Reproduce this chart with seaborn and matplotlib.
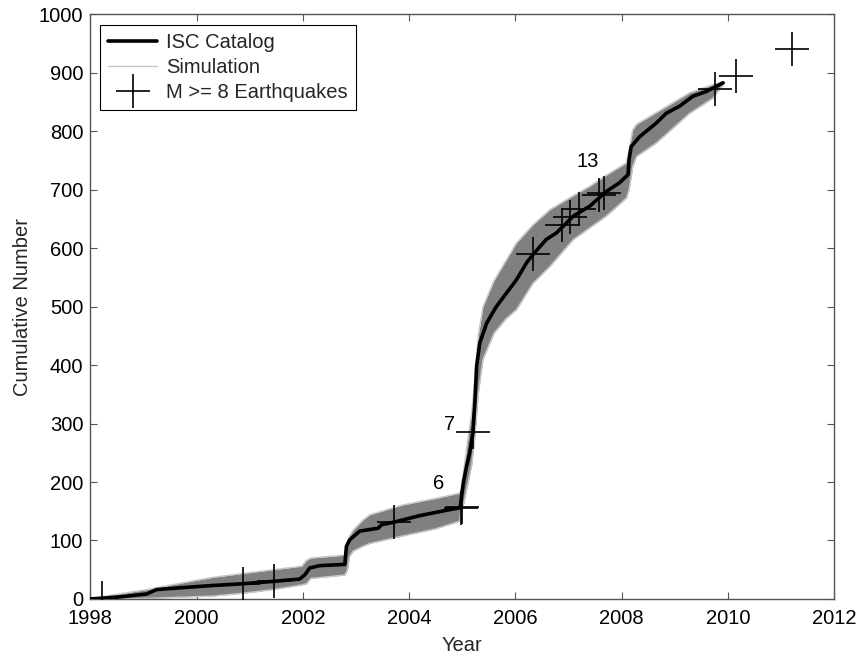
import matplotlib
matplotlib.use("Agg")
import matplotlib.pyplot as plt
import seaborn as sns
import pandas as pd
from matplotlib.lines import Line2D

# ---- data ----
isc_year = [1998.0, 1998.18, 1998.62, 1999.06, 1999.25, 1999.68, 2000.31, 2000.88,
            2001.44, 2001.94, 2002.04, 2002.13, 2002.32, 2002.79, 2002.82, 2002.88,
            2003.07, 2003.42, 2003.48, 2003.70, 2004.20, 2004.70, 2004.96, 2004.98,
            2005.02, 2005.08, 2005.14, 2005.20, 2005.22, 2005.24, 2005.27, 2005.33,
            2005.46, 2005.64, 2005.83, 2006.02, 2006.21, 2006.33, 2006.58, 2006.77,
            2006.96, 2007.09, 2007.40, 2007.71, 2007.96, 2008.12, 2008.14, 2008.18,
            2008.34, 2008.65, 2008.84, 2009.09, 2009.34, 2009.59, 2009.78, 2009.91]
isc_count = [0, 1, 4, 8.5, 16, 19, 23, 26,
             30, 34, 41.5, 53, 57, 59, 90, 101,
             116, 121, 127, 131, 142.5, 151.6, 156, 170,
             198, 227, 250, 284, 312, 341, 398, 438,
             472, 500, 523, 546, 575, 589, 615, 626,
             643, 655, 672, 697, 712, 726, 752, 774,
             791, 814, 831, 843, 860, 868, 877, 883]

sim_year = [1998.0, 1998.5, 1999.06, 1999.7, 2000.31, 2000.9, 2001.44, 2001.98,
            2002.07, 2002.15, 2002.79, 2002.84, 2002.88, 2002.95, 2003.13, 2003.26,
            2003.70, 2003.89, 2004.5, 2004.95, 2004.97, 2005.02, 2005.10, 2005.18,
            2005.24, 2005.30, 2005.39, 2005.6, 2005.83, 2006.02, 2006.33, 2006.65,
            2007.09, 2007.40, 2007.71, 2008.09, 2008.14, 2008.21, 2008.28, 2008.65,
            2009.28, 2009.72, 2009.91]
sim_low = [0, 0, 1, 3, 5, 10, 16, 24,
           26, 35, 41, 50, 73, 82, 90, 95,
           104, 108, 120, 133, 150, 160, 195, 230,
           280, 350, 410, 455, 480, 495, 540, 569,
           615, 635, 655, 686, 700, 740, 757, 780,
           831, 857, 880]
sim_high = [0, 8, 16, 27, 37, 44, 50, 56,
            66, 70, 75, 95, 108, 118, 135, 144,
            156, 161, 172, 181, 185, 215, 270, 320,
            380, 450, 500, 545, 580, 609, 640, 666,
            690, 706, 725, 746, 770, 803, 812, 832,
            866, 880, 885]

quake_year = [1998.22, 2000.87, 2001.46, 2003.72, 2004.97, 2004.99, 2005.21, 2006.34,
              2006.88, 2007.03, 2007.19, 2007.58, 2007.66, 2009.75, 2010.16, 2011.20]
quake_count = [1, 26, 31, 132, 156, 158, 285, 590,
               639, 653, 667, 691, 695, 873, 895, 941]

label_text = ["6", "7", "13"]
label_year = [2004.55, 2004.77, 2007.37]
label_count = [197, 298, 748]

x_ticks = [1998, 2000, 2002, 2004, 2006, 2008, 2010, 2012]
y_ticks = [0, 100, 200, 300, 400, 500, 600, 700, 800, 900, 1000]

# ---- style ----
sns.set_theme(style="white")
plt.rcParams["font.family"] = ["Liberation Sans", "DejaVu Sans"]
FS = 14.5

fig = plt.figure(figsize=(8.6, 6.56), dpi=100)
ax = fig.add_axes([0.105, 0.087, 0.865, 0.891])

isc_df = pd.DataFrame({"year": isc_year, "count": isc_count})
q_df = pd.DataFrame({"year": quake_year, "count": quake_count})

# simulation band
ax.fill_between(sim_year, sim_low, sim_high, color="#808080", lw=0, zorder=1)
ax.plot(sim_year, sim_low, color="#c8c8c8", lw=1.0, zorder=1.5)
ax.plot(sim_year, sim_high, color="#c8c8c8", lw=1.0, zorder=1.5)

sns.lineplot(data=isc_df, x="year", y="count", color="black", lw=2.6,
             sort=False, estimator=None, ax=ax, zorder=3)
sns.scatterplot(data=q_df, x="year", y="count", marker="+", s=600,
                color="black", linewidth=1.2, ax=ax, zorder=4, clip_on=True)

for t, xx, yy in zip(label_text, label_year, label_count):
    ax.text(xx, yy, t, fontsize=FS, ha="center", va="center", color="black")

ax.set_xlim(1998, 2012)
ax.set_ylim(0, 1000)
ax.set_xticks(x_ticks)
ax.set_yticks(y_ticks)
ax.set_xticklabels([str(v) for v in x_ticks], fontsize=FS)
ax.set_yticklabels([str(v) for v in y_ticks], fontsize=FS)
ax.set_xlabel("Year", fontsize=FS, labelpad=6)
ax.set_ylabel("Cumulative Number", fontsize=FS, labelpad=5)

for s in ax.spines.values():
    s.set_color("#555555")
    s.set_linewidth(1.0)
ax.tick_params(direction="in", length=5, width=0.8, color="#555555",
               top=True, right=True, bottom=True, left=True,
               labelcolor="black")
ax.tick_params(axis="x", pad=7)
ax.tick_params(axis="y", pad=5)

handles = [
    Line2D([], [], color="black", lw=2.6),
    Line2D([], [], color="#c8c8c8", lw=1.0),
    Line2D([], [], color="black", marker="+", markersize=24, mew=1.2, ls="none"),
]
leg = ax.legend(handles, ["ISC Catalog", "Simulation", "M >= 8 Earthquakes"],
                loc="upper left", fontsize=FS, frameon=True, fancybox=False,
                edgecolor="black", framealpha=1, borderaxespad=0.5,
                handlelength=2.4, handletextpad=0.45, labelspacing=0.3,
                borderpad=0.4)
leg.get_frame().set_linewidth(0.8)

fig.savefig("out.png", dpi=100)
